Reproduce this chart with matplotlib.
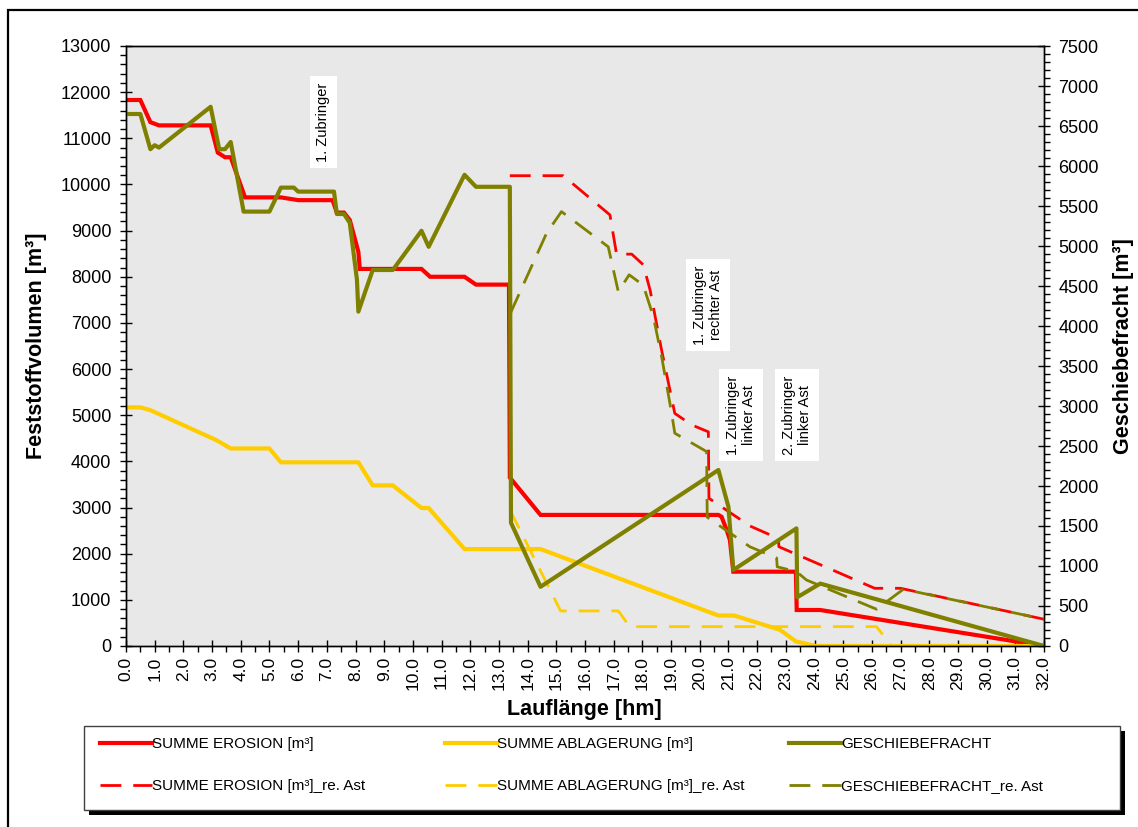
import matplotlib
matplotlib.use("Agg")
import matplotlib.pyplot as plt
from matplotlib.patches import Rectangle
from matplotlib.lines import Line2D
from matplotlib.ticker import MultipleLocator, FormatStrFormatter

plt.rcParams['font.family'] = ['Liberation Sans', 'DejaVu Sans']

# Lauflänge [hm] und Volumen [m³] je Reihe
ero_x = [0.0, 0.5, 0.85, 1.15, 2.95, 3.2, 3.45, 3.65, 4.15, 5.4, 6.0, 7.2, 7.35,
         7.6, 7.8, 8.1, 8.15, 10.3, 10.6, 11.8, 12.2, 13.35, 13.38, 14.45, 20.65,
         20.76, 20.94, 21.05, 21.17, 23.35, 23.38, 24.2, 32.0]
ero_y = [11830, 11830, 11350, 11280, 11280, 10690, 10590, 10590, 9720, 9720, 9660,
         9660, 9390, 9390, 9230, 8540, 8170, 8170, 8000, 8000, 7830, 7830, 3650,
         2840, 2840, 2800, 2510, 2300, 1610, 1610, 780, 780, 0]

abl_x = [0.0, 0.5, 0.85, 3.15, 3.65, 5.0, 5.4, 8.1, 8.6, 9.3, 10.3, 10.55, 11.8,
         14.45, 20.65, 21.2, 22.8, 23.35, 24.05, 32.0]
abl_y = [5170, 5170, 5110, 4460, 4280, 4280, 3980, 3980, 3480, 3480, 2990, 2990,
         2100, 2100, 660, 660, 350, 100, 0, 0]

# Geschiebefracht (rechte Achse)
gf_x = [0.0, 0.5, 0.85, 1.0, 1.15, 2.95, 3.25, 3.45, 3.65, 4.1, 5.0, 5.4, 5.85,
        6.0, 7.25, 7.35, 7.6, 7.8, 8.05, 8.1, 8.6, 9.3, 10.3, 10.55, 11.8, 12.2,
        13.38, 13.42, 14.45, 20.65, 21.0, 21.17, 23.37, 23.4, 24.2, 32.0]
gf_y = [6650, 6650, 6210, 6260, 6230, 6740, 6210, 6210, 6300, 5430, 5430, 5730,
        5730, 5680, 5680, 5400, 5400, 5290, 4580, 4180, 4700, 4700, 5190, 4990,
        5890, 5740, 5740, 1540, 740, 2200, 1740, 950, 1470, 610, 780, 0]

# rechter Ast
ero_re_x = [13.38, 15.24, 16.87, 17.1, 17.63, 18.03, 18.27, 18.67, 19.13, 19.72,
            20.3, 20.32, 21.75, 22.74, 22.76, 26.1, 27.0, 32.0]
ero_re_y = [10190, 10190, 9340, 8490, 8490, 8260, 7710, 6410, 5040, 4790, 4640,
            3200, 2600, 2330, 2150, 1250, 1250, 580]

abl_re_x = [13.38, 15.15, 17.16, 17.56, 26.16, 26.69, 32.0]
abl_re_y = [2950, 760, 760, 420, 420, 0, 0]

gf_re_x = [13.4, 14.66, 15.18, 16.81, 17.16, 17.54, 18.03, 18.38, 18.67, 19.02,
           19.13, 20.24, 20.26, 21.75, 22.68, 22.7, 23.37, 23.72, 26.16, 27.1, 32.0]
gf_re_y = [4160, 5160, 5430, 4990, 4430, 4640, 4510, 4120, 3620, 2910, 2660, 2430,
           1610, 1240, 1100, 990, 930, 825, 460, 710, 335]

zubringer = ['1. Zubringer', '1. Zubringer\nrechter Ast',
             '1. Zubringer\nlinker Ast', '2. Zubringer\nlinker Ast']
zubringer_x = [6.87, 20.29, 21.44, 23.39]
zubringer_y = [11350, 7390, 5005, 5005]

ROT = '#FF0000'
GELB = '#FFCC00'
OLIV = '#808000'
DASH = (7.5, 4.3)

fig = plt.figure(figsize=(11.38, 8.27), dpi=100)
W, H = 1138, 827

ax = fig.add_axes([126 / W, 1 - 646 / H, 918 / W, 600 / H])
ax.set_facecolor('#E8E8E8')
ax2 = ax.twinx()

ax.plot(ero_x, ero_y, color=ROT, lw=3, solid_joinstyle='miter')
ax.plot(abl_x, abl_y, color=GELB, lw=3)
ax.plot(ero_re_x, ero_re_y, color=ROT, lw=2, dashes=DASH)
ax.plot(abl_re_x, abl_re_y, color=GELB, lw=2, dashes=DASH)
ax2.plot(gf_x, gf_y, color=OLIV, lw=3)
ax2.plot(gf_re_x, gf_re_y, color=OLIV, lw=2, dashes=DASH)

for s, x, y in zip(zubringer, zubringer_x, zubringer_y):
    ax2.text(x, y, s, transform=ax.transData, rotation=90, fontsize=10.5,
             ha='center', va='center', multialignment='center',
             bbox=dict(boxstyle='square,pad=0.45', fc='white', ec='none'))

ax.set_xlim(0, 32)
ax.set_ylim(0, 13000)
ax2.set_ylim(0, 7500)

ax.xaxis.set_major_locator(MultipleLocator(1))
ax.xaxis.set_minor_locator(MultipleLocator(0.5))
ax.xaxis.set_major_formatter(FormatStrFormatter('%.1f'))
ax.yaxis.set_major_locator(MultipleLocator(1000))
ax.yaxis.set_minor_locator(MultipleLocator(200))
ax2.yaxis.set_major_locator(MultipleLocator(500))
ax2.yaxis.set_minor_locator(MultipleLocator(100))

ax.tick_params(axis='x', which='major', direction='inout', length=9, width=1,
               labelsize=12.5, labelrotation=90, pad=3)
ax.tick_params(axis='x', which='minor', direction='out', length=4, width=1)
ax.tick_params(axis='y', which='major', direction='inout', length=9, width=1,
               labelsize=13, pad=6)
ax.tick_params(axis='y', which='minor', direction='out', length=4, width=1)
ax2.tick_params(axis='y', which='major', direction='inout', length=9, width=1,
                labelsize=13, pad=6)
ax2.tick_params(axis='y', which='minor', direction='out', length=4, width=1)

for a in (ax, ax2):
    for sp in a.spines.values():
        sp.set_linewidth(1)
        sp.set_color('black')

ax.text(0.499, -0.105, 'Lauflänge [hm]', transform=ax.transAxes, ha='center',
        va='center', fontsize=15.5, fontweight='bold')
ax.text(-0.097, 0.5, 'Feststoffvolumen [m³]', transform=ax.transAxes, rotation=90,
        ha='center', va='center', fontsize=15.5, fontweight='bold')
ax.text(1.087, 0.5, 'Geschiebefracht [m³]', transform=ax.transAxes, rotation=90,
        ha='center', va='center', fontsize=15.5, fontweight='bold')

# Rahmen um die Grafik
fig.patches.append(Rectangle((8 / W, -0.1), 1.2, 1 - 10 / H + 0.1,
                             transform=fig.transFigure, fill=False, ec='black', lw=1.6))

# Legendenkasten mit Schatten
lx, ly, lw_, lh = 84 / W, 1 - 810 / H, 1036 / W, 84 / H
fig.patches.append(Rectangle((lx + 5 / W, ly - 5 / H), lw_, lh, transform=fig.transFigure,
                             fc='black', ec='none', zorder=1))
fig.patches.append(Rectangle((lx, ly), lw_, lh, transform=fig.transFigure,
                             fc='white', ec='#404040', lw=1, zorder=2))

spalten = [
    ([Line2D([], [], color=ROT, lw=3), Line2D([], [], color=ROT, lw=2, dashes=DASH)],
     ['SUMME EROSION [m³]', 'SUMME EROSION [m³]_re. Ast'], 100),
    ([Line2D([], [], color=GELB, lw=3), Line2D([], [], color=GELB, lw=2, dashes=DASH)],
     ['SUMME ABLAGERUNG [m³]', 'SUMME ABLAGERUNG [m³]_re. Ast'], 445),
    ([Line2D([], [], color=OLIV, lw=3), Line2D([], [], color=OLIV, lw=2, dashes=DASH)],
     ['GESCHIEBEFRACHT', 'GESCHIEBEFRACHT_re. Ast'], 789),
]
for handles, labels, px in spalten:
    leg = fig.legend(handles, labels, loc='upper left', bbox_to_anchor=(px / W, 1 - 737 / H),
                     bbox_transform=fig.transFigure, frameon=False, fontsize=11,
                     handlelength=3.4, handletextpad=0.0, labelspacing=1.85,
                     borderpad=0, borderaxespad=0)
    leg.set_zorder(5)

fig.savefig('out.png', dpi=100)
